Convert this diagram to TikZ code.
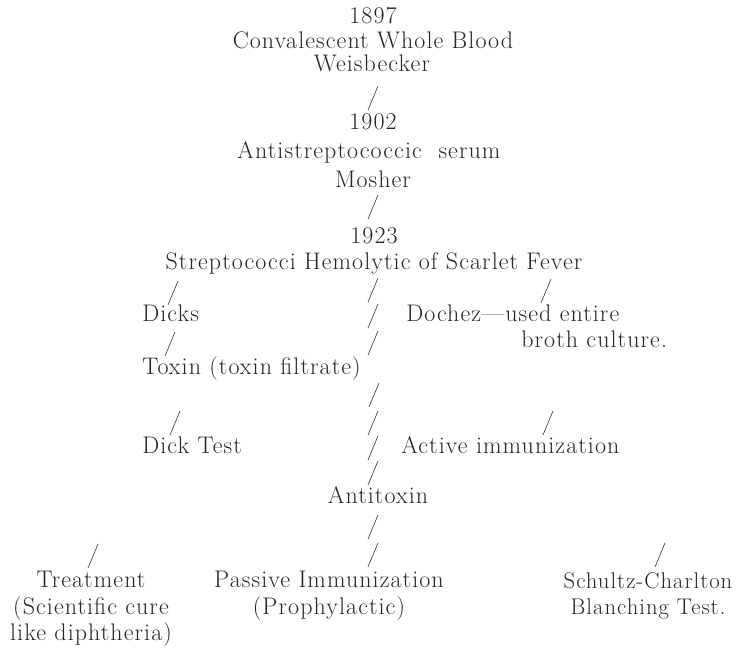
\documentclass[tikz,border=0pt]{standalone}
\usepackage{fontspec}
\setmainfont{Latin Modern Roman}[LetterSpace=4.5]
\usepackage{tikz}

\begin{document}
\begin{tikzpicture}[
  x=0.75pt, y=-0.75pt,
  every node/.style={font=\fontsize{18}{20}\selectfont, text=black!85, inner sep=0pt},
  one/.style={text height=0.7em, text depth=0.25em, yshift=-2pt},
  line/.style={align=center, anchor=north},
  tick/.style={draw=black!80, line width=0.45pt}]
  \useasboundingbox (0,0) rectangle (747,649);
  % top spine
  \node[one] (y1897) at (373,18)  {1897};
  \node[one] (blood) at (373,43)  {Convalescent Whole Blood};
  \node[one] (weis)  at (372,66)  {Weisbecker};
  \node[one] (y1902) at (373,124) {1902};
  \node[one] (serum) at (369,153) {Antistreptococcic\ \ serum};
  \node[one] (mosh)  at (373,182) {Mosher};
  \node[one] (y1923) at (374,238) {1923};
  \node[one] (strep) at (374,264) {Streptococci Hemolytic of Scarlet Fever};
  % left arm
  \node[one, anchor=west] (dicks) at (142,316) {Dicks};
  \node[one, anchor=west] (toxin) at (142,369) {Toxin (toxin filtrate)};
  \node[one, anchor=west] (dtest) at (142,448) {Dick Test};
  % right arm
  \node[one, anchor=west] (doch)   at (406,316) {Dochez---used entire};
  \node[one, anchor=west] (broth)  at (521,342) {broth culture.};
  \node[one, anchor=west] (active) at (401,448) {Active immunization};
  % bottom
  \node[one] (antitox) at (378,498) {Antitoxin};
  \node[line] (treat) at (91,571)
    {Treatment\\(Scientific cure\\like diphtheria)};
  \node[line] (pass) at (329,571)
    {Passive Immunization\\(Prophylactic)};
  \node[line, font=\fontsize{17}{20}\selectfont] (schu) at (648,572)
    {Schultz-Charlton\\Blanching Test.};
  % strokes
  \draw[tick] (368,110) -- (378,86);
  \draw[tick] (368,219) -- (378,195);
  \draw[tick] (168,305) -- (178,281);
  \draw[tick] (368,302) -- (378,278);
  \draw[tick] (541,303) -- (551,279);
  \draw[tick] (368,328) -- (378,304);
  \draw[tick] (165,356) -- (175,332);
  \draw[tick] (368,355) -- (378,331);
  \draw[tick] (369,407) -- (379,383);
  \draw[tick] (170,435) -- (180,411);
  \draw[tick] (368,435) -- (378,411);
  \draw[tick] (543,435) -- (553,411);
  \draw[tick] (368,460) -- (378,436);
  \draw[tick] (368,485) -- (378,461);
  \draw[tick] (368,539) -- (378,515);
  \draw[tick] (88,568) -- (98,544);
  \draw[tick] (368,567) -- (378,543);
  \draw[tick] (655,567) -- (665,543);
\end{tikzpicture}
\end{document}
